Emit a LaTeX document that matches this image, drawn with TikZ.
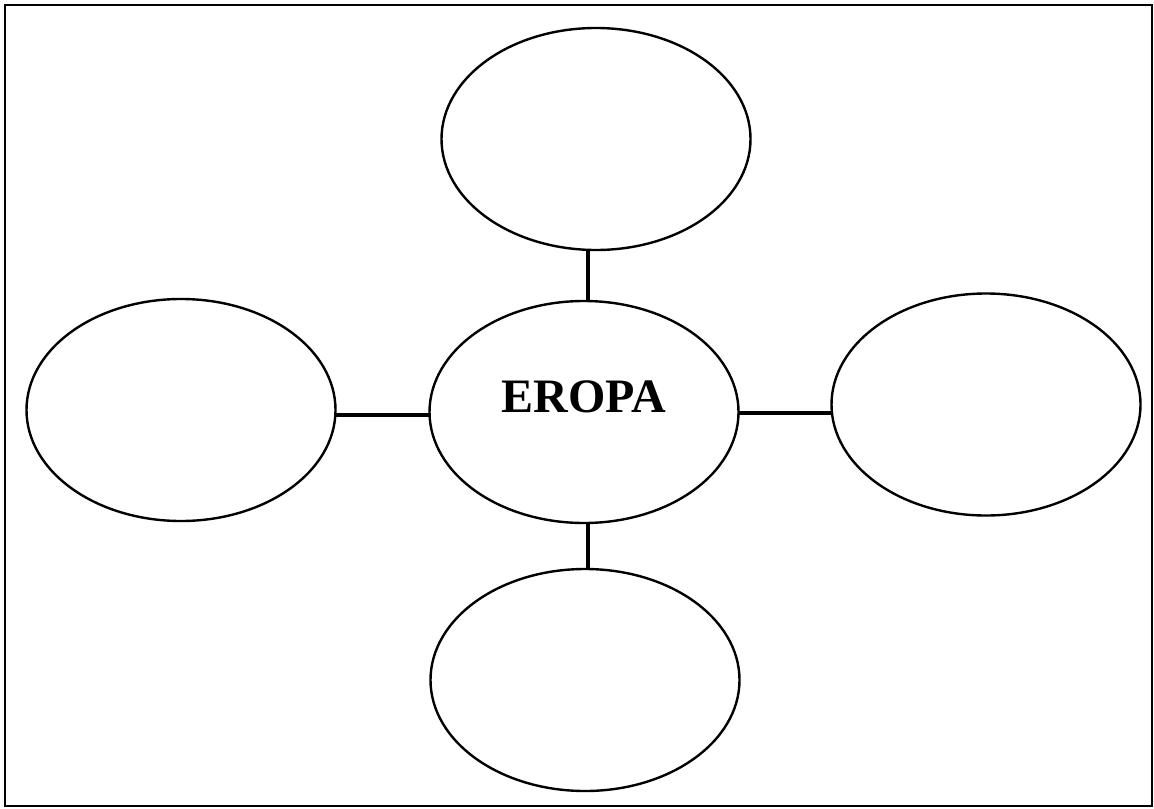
\documentclass[tikz,border=0pt]{standalone}
\usepackage{fontspec}
\setmainfont{Liberation Serif}
\usetikzlibrary{positioning,shapes.geometric}
\tikzset{
    %Define style for the bubbles
    bubble/.style={
           ellipse,
           draw=black, line width=1.2pt,
           minimum width=154.5pt,
           minimum height=111pt,
           inner sep=0pt, outer sep=0pt},
    % Define connector style
    tie/.style={
           line width=1.7pt},
    % Define frame style
    frame/.style={
           line width=1.2pt}
}
\begin{document}
\begin{tikzpicture}[x=0.5pt, y=-0.5pt, node distance=1cm]
    \useasboundingbox (0,0) rectangle (1154,808);
    \draw[frame] (5,5) rectangle (1152,806);
    \node[bubble, text height=16pt, text depth=16pt,
          font=\fontsize{24}{28}\selectfont\bfseries] (eropa) at (584,412) {EROPA};
    \node[bubble, above=25.5pt of eropa, xshift=6pt] (bub1) {};
    \node[bubble, left=47pt of eropa, yshift=1pt] (bub2) {};
    \node[bubble, right=46.5pt of eropa, yshift=3.75pt] (bub3) {};
    \node[bubble, below=23pt of eropa, xshift=0.5pt] (bub4) {};
    \draw[tie] (eropa.north) ++(2pt,0) coordinate (n1) -- (n1 |- bub1.south);
    \draw[tie] (eropa.west) ++(0,-1.5pt) coordinate (w1) -- (w1 -| bub2.east);
    \draw[tie] (eropa.east) ++(0,-0.5pt) coordinate (e1) -- (e1 -| bub3.west);
    \draw[tie] (eropa.south) ++(2pt,0) coordinate (s1) -- (s1 |- bub4.north);
\end{tikzpicture}
\end{document}
